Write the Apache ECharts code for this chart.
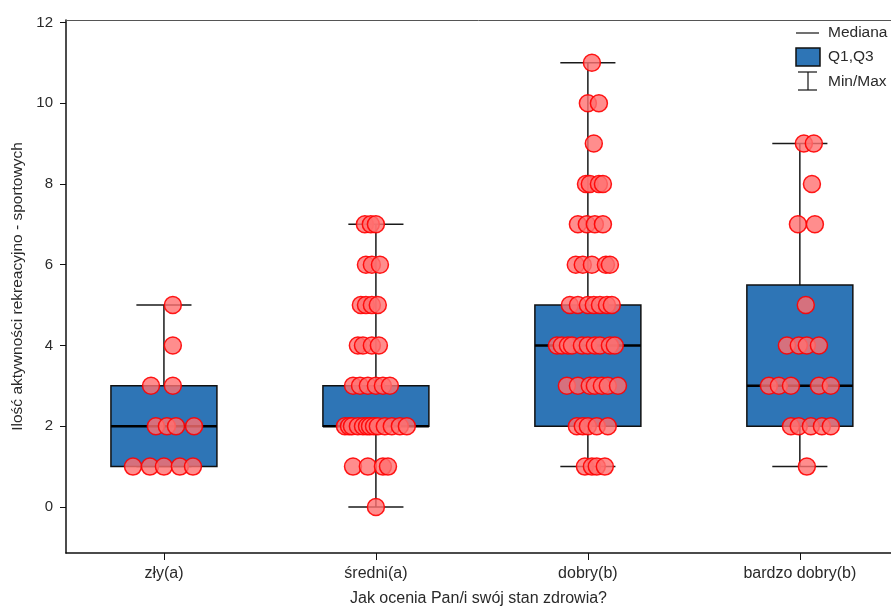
<!DOCTYPE html>
<html>
<head>
<meta charset="utf-8">
<script src="https://cdn.jsdelivr.net/npm/echarts@6/dist/echarts.min.js"></script>
<style>
  html, body { margin: 0; padding: 0; background: #ffffff; }
  #chart { width: 891px; height: 612px; }
</style>
</head>
<body>
<div id="chart"></div>
<script>
// Health self-assessment groups
const categories = ['zły(a)', 'średni(a)', 'dobry(b)', 'bardzo dobry(b)'];

// Box statistics per group
const boxMin    = [1, 0, 1, 1];
const boxQ1     = [1, 2, 2, 2];
const boxMedian = [2, 2, 4, 3];
const boxQ3     = [3, 3, 5, 5.5];
const boxMax    = [5, 7, 11, 9];

// Individual observations per group, with horizontal jitter (in category units)
const zlyValues = [5, 4, 3, 3, 2, 2, 2, 2, 1, 1, 1, 1, 1];
const zlyJitter = [0.042, 0.042, -0.061, 0.042, -0.038, 0.014, 0.057, 0.142,
                   -0.146, -0.066, 0, 0.075, 0.137];

const sredniValues = [7, 7, 7, 6, 6, 6, 5, 5, 5, 5, 4, 4, 4, 4,
                      3, 3, 3, 3, 3, 3,
                      2, 2, 2, 2, 2, 2, 2, 2, 2, 2, 2, 2, 2,
                      1, 1, 1, 1, 0];
const sredniJitter = [-0.052, -0.024, 0, -0.047, -0.019, 0.019,
                      -0.071, -0.047, -0.019, 0.009, -0.085, -0.061, -0.019, 0.014,
                      -0.108, -0.075, -0.038, 0, 0.033, 0.066,
                      -0.146, -0.127, -0.113, -0.085, -0.061, -0.042, -0.028, -0.009, 0.009, 0.042, 0.075, 0.113, 0.146,
                      -0.108, -0.038, 0.033, 0.057, 0];

const dobryValues = [11, 10, 10, 9, 8, 8, 8, 8, 7, 7, 7, 7,
                     6, 6, 6, 6, 6, 5, 5, 5, 5, 5, 5, 5,
                     4, 4, 4, 4, 4, 4, 4, 4, 4, 4,
                     3, 3, 3, 3, 3, 3, 3,
                     2, 2, 2, 2, 2, 1, 1, 1, 1];
const dobryJitter = [0.019, 0, 0.052, 0.028, -0.009, 0.009, 0.052, 0.071, -0.047, -0.005, 0.033, 0.071,
                     -0.057, -0.024, 0.019, 0.085, 0.104, -0.085, -0.047, 0, 0.028, 0.057, 0.090, 0.113,
                     -0.146, -0.123, -0.094, -0.075, -0.028, 0, 0.033, 0.057, 0.104, 0.127,
                     -0.099, -0.047, 0.009, 0.033, 0.066, 0.094, 0.142,
                     -0.052, -0.024, 0, 0.042, 0.094, -0.014, 0.019, 0.042, 0.080];

const bardzoValues = [9, 9, 8, 7, 7, 5, 4, 4, 4, 4, 3, 3, 3, 3, 3, 2, 2, 2, 2, 2, 1];
const bardzoJitter = [0.019, 0.066, 0.057, -0.009, 0.071, 0.028,
                      -0.061, -0.005, 0.033, 0.090,
                      -0.146, -0.099, -0.042, 0.090, 0.146,
                      -0.042, -0.005, 0.052, 0.104, 0.146, 0.033];

const groupValues = [zlyValues, sredniValues, dobryValues, bardzoValues];
const groupJitter = [zlyJitter, sredniJitter, dobryJitter, bardzoJitter];

// Tick positions
const xTicks = [1, 2, 3, 4];
const yTicks = [0, 2, 4, 6, 8, 10, 12];

const boxData = categories.map((c, i) => [i + 1, boxMin[i], boxQ1[i], boxMedian[i], boxQ3[i], boxMax[i]]);
const pointData = [];
groupValues.forEach((vals, g) => {
  vals.forEach((v, k) => pointData.push([g + 1 + groupJitter[g][k], v]));
});

const FONT = 'Liberation Sans, Arial, sans-serif';
const TEXT = '#2a2a2a';
const BOX_HALF = 0.25;
const CAP_HALF = 0.13;

function renderBox(params, api) {
  const x = api.value(0);
  const mn = api.value(1), q1 = api.value(2), md = api.value(3), q3 = api.value(4), mx = api.value(5);
  const tl = api.coord([x - BOX_HALF, q3]);
  const br = api.coord([x + BOX_HALF, q1]);
  const cTop = api.coord([x, mx]);
  const cQ3 = api.coord([x, q3]);
  const cQ1 = api.coord([x, q1]);
  const cBot = api.coord([x, mn]);
  const capL = api.coord([x - CAP_HALF, mx])[0];
  const capR = api.coord([x + CAP_HALF, mx])[0];
  const medY = api.coord([x, md])[1];
  const lineStyle = { stroke: '#1a1a1a', lineWidth: 1.5 };
  return {
    type: 'group',
    children: [
      { type: 'line', shape: { x1: cTop[0], y1: cTop[1], x2: cQ3[0], y2: cQ3[1] }, style: lineStyle },
      { type: 'line', shape: { x1: cQ1[0], y1: cQ1[1], x2: cBot[0], y2: cBot[1] }, style: lineStyle },
      { type: 'line', shape: { x1: capL, y1: cTop[1], x2: capR, y2: cTop[1] }, style: lineStyle },
      { type: 'line', shape: { x1: capL, y1: cBot[1], x2: capR, y2: cBot[1] }, style: lineStyle },
      { type: 'rect', shape: { x: tl[0], y: tl[1], width: br[0] - tl[0], height: br[1] - tl[1] },
        style: { fill: '#2e75b6', stroke: '#111', lineWidth: 1.5 } },
      { type: 'line', shape: { x1: tl[0], y1: medY, x2: br[0], y2: medY },
        style: { stroke: '#000', lineWidth: 2.5 } }
    ]
  };
}

const chart = echarts.init(document.getElementById('chart'), null, { renderer: 'canvas' });

const legendX = 796;
const legendTextX = 828;
chart.setOption({
  animation: false,
  backgroundColor: '#ffffff',
  textStyle: { fontFamily: FONT },
  grid: { left: 66, right: 0, top: 20, bottom: 56, containLabel: false },
  xAxis: [{
    type: 'value',
    min: 0.538,
    max: 4.43,
    name: 'Jak ocenia Pan/i swój stan zdrowia?',
    nameLocation: 'middle',
    nameGap: 38,
    nameTextStyle: { fontFamily: FONT, fontSize: 16, color: TEXT },
    splitLine: { show: false },
    axisLine: { show: true, onZero: false, lineStyle: { color: '#111', width: 1.5 } },
    axisTick: { show: true, customValues: xTicks, length: 7, lineStyle: { color: '#111', width: 1 } },
    axisLabel: {
      customValues: xTicks,
      formatter: v => categories[Math.round(v) - 1] || '',
      margin: 13,
      fontFamily: FONT, fontSize: 16, color: TEXT
    }
  }, {
    type: 'value',
    position: 'top',
    min: 0.538,
    max: 4.43,
    splitLine: { show: false },
    axisLine: { show: true, onZero: false, lineStyle: { color: '#555', width: 1 } },
    axisTick: { show: false },
    axisLabel: { show: false }
  }],
  yAxis: {
    type: 'value',
    min: -1.14,
    max: 12.06,
    name: 'Ilość aktywności rekreacyjno - sportowych',
    nameLocation: 'middle',
    nameGap: 36,
    nameRotate: 90,
    nameTextStyle: { fontFamily: FONT, fontSize: 15.5, color: TEXT },
    splitLine: { show: false },
    axisLine: { show: true, onZero: false, lineStyle: { color: '#111', width: 1.5 } },
    axisTick: { show: true, customValues: yTicks, length: 6, lineStyle: { color: '#111', width: 1 } },
    axisLabel: { customValues: yTicks, margin: 13, fontFamily: FONT, fontSize: 15, color: TEXT }
  },
  series: [{
    type: 'custom',
    renderItem: renderBox,
    data: boxData,
    encode: { x: 0, y: [1, 2, 3, 4, 5] },
    z: 2,
    clip: false
  }, {
    type: 'scatter',
    data: pointData,
    symbol: 'circle',
    symbolSize: 17,
    itemStyle: { color: 'rgba(255,113,113,0.8)', borderColor: 'rgba(255,0,0,0.9)', borderWidth: 1.5, opacity: 1 },
    z: 3
  }],
  graphic: [
    { type: 'line', shape: { x1: legendX, y1: 33, x2: legendX + 23, y2: 33 }, style: { stroke: '#111', lineWidth: 1.2 } },
    { type: 'text', x: legendTextX, y: 33, style: { text: 'Mediana', fontFamily: FONT, fontSize: 15.5, fill: TEXT, textVerticalAlign: 'middle' } },
    { type: 'rect', shape: { x: legendX, y: 48, width: 24, height: 18 }, style: { fill: '#2e75b6', stroke: '#111', lineWidth: 1.5 } },
    { type: 'text', x: legendTextX, y: 57, style: { text: 'Q1,Q3', fontFamily: FONT, fontSize: 15.5, fill: TEXT, textVerticalAlign: 'middle' } },
    { type: 'line', shape: { x1: legendX + 2, y1: 72, x2: legendX + 21, y2: 72 }, style: { stroke: '#111', lineWidth: 1.2 } },
    { type: 'line', shape: { x1: legendX + 12, y1: 72, x2: legendX + 12, y2: 90 }, style: { stroke: '#111', lineWidth: 1.2 } },
    { type: 'line', shape: { x1: legendX + 2, y1: 90, x2: legendX + 21, y2: 90 }, style: { stroke: '#111', lineWidth: 1.2 } },
    { type: 'text', x: legendTextX, y: 82, style: { text: 'Min/Max', fontFamily: FONT, fontSize: 15.5, fill: TEXT, textVerticalAlign: 'middle' } }
  ]
});
</script>
</body>
</html>
